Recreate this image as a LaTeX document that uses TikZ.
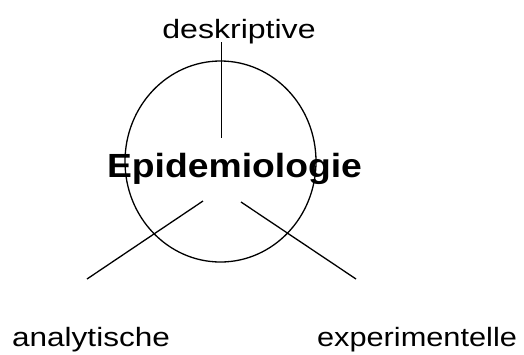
\documentclass[tikz,border=0pt]{standalone}
\usepackage{fontspec}
\setmainfont{Liberation Sans}
\usetikzlibrary{shapes.geometric}
\begin{document}
\begin{tikzpicture}[x=1pt,y=-1pt,
  lbl/.style={inner sep=0pt,anchor=base,font=\fontsize{26.5}{30}\selectfont},
  title/.style={inner sep=0pt,anchor=base,font=\fontsize{33.5}{38}\selectfont\bfseries},
  ring/.style={draw,line width=1.3pt,ellipse,inner sep=0pt,minimum width=191pt,minimum height=201pt},
  conn/.style={line width=1.3pt,black}]
\useasboundingbox (0,0) rectangle (524,354);
% circle
\node[ring] (c) at (220.5,161.5) {};
% texts
\node[lbl] (desk) at (239,38.5) {\scalebox{1.21}[1]{deskriptive}};
\node[title] (epi) at (234.5,177.3) {\scalebox{1.113}[1]{Epidemiologie}};
\node[lbl] (ana) at (91,346.5) {\scalebox{1.19}[1]{analytische}};
\node[lbl] (exper) at (417,346.5) {\scalebox{1.16}[1]{experimentelle}};
% connector ends
\coordinate (dtop) at (221.5,42);
\coordinate (dbot) at (221.5,138);
\coordinate (ltop) at (203,201);
\coordinate (lbot) at (87,279);
\coordinate (rtop) at (241,202);
\coordinate (rbot) at (356,279);
\draw[conn] (dtop) -- (dbot);
\draw[conn] (ltop) -- (lbot);
\draw[conn] (rtop) -- (rbot);
\end{tikzpicture}
\end{document}
